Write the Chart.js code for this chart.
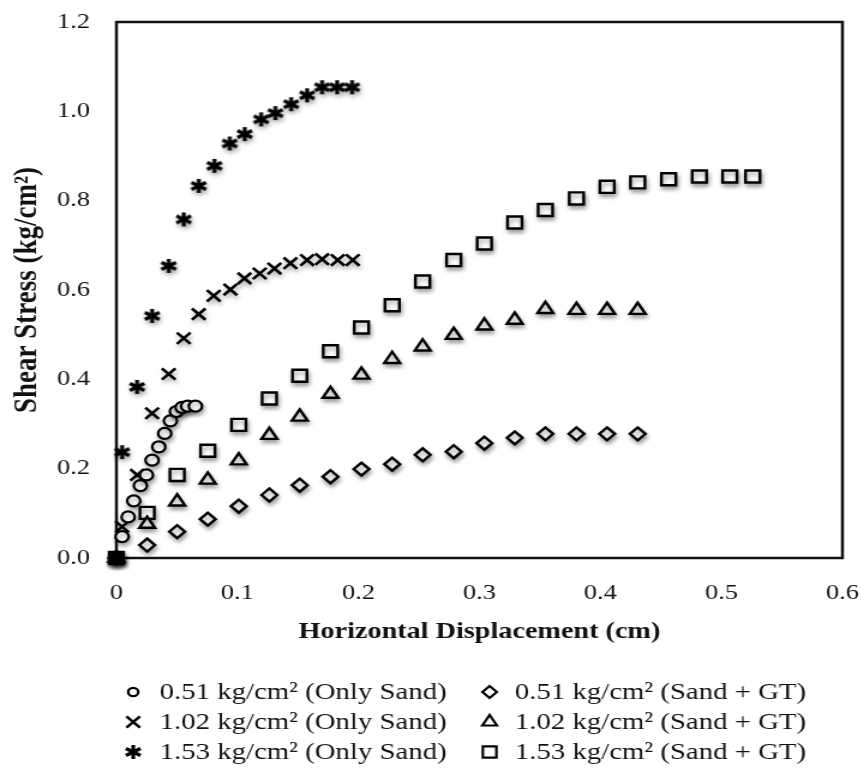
<!DOCTYPE html>
<html>
<head>
<meta charset="utf-8">
<script src="https://cdn.jsdelivr.net/npm/chart.js@4.4.1/dist/chart.umd.min.js"></script>
<style>
  html, body { margin: 0; padding: 0; background: #fff; overflow: hidden; }
  /* the source figure is stretched ~1.2x horizontally, so the whole chart is too */
  #wrap { width: 718px; height: 773px; transform: scaleX(1.2); transform-origin: 0 0; }
</style>
</head>
<body>
<div id="wrap"><canvas id="chart"></canvas></div>
<script>
const xTicks = [0, 0.1, 0.2, 0.3, 0.4, 0.5, 0.6];
const yTicks = [0, 0.2, 0.4, 0.6, 0.8, 1.0, 1.2];

const legendLabels = [
  '0.51 kg/cm² (Only Sand)', '1.02 kg/cm² (Only Sand)', '1.53 kg/cm² (Only Sand)',
  '0.51 kg/cm² (Sand + GT)', '1.02 kg/cm² (Sand + GT)', '1.53 kg/cm² (Sand + GT)'
];

// only sand
const sand051X = [0, 0.0047, 0.0097, 0.0143, 0.0198, 0.0248, 0.0295, 0.035, 0.0399, 0.0446, 0.0496, 0.0543, 0.0589, 0.0653];
const sand051Y = [0, 0.048, 0.092, 0.128, 0.162, 0.186, 0.219, 0.249, 0.279, 0.307, 0.328, 0.337, 0.340, 0.340];

const sand102X = [0, 0.0047, 0.0171, 0.0295, 0.0432, 0.0556, 0.068, 0.0804, 0.0942, 0.1058, 0.1184, 0.1306, 0.1438, 0.1576, 0.17, 0.1829, 0.1953];
const sand102Y = [0, 0.07, 0.186, 0.324, 0.412, 0.492, 0.546, 0.587, 0.601, 0.626, 0.637, 0.648, 0.66, 0.667, 0.669, 0.667, 0.667];

const sand153X = [0, 0.0047, 0.0171, 0.0295, 0.0432, 0.0556, 0.068, 0.081, 0.0936, 0.106, 0.1196, 0.1314, 0.1444, 0.1576, 0.17, 0.1824, 0.1948];
const sand153Y = [0, 0.237, 0.383, 0.542, 0.654, 0.758, 0.833, 0.878, 0.928, 0.949, 0.982, 0.996, 1.016, 1.036, 1.054, 1.054, 1.054];

// sand + geotextile
const gt051X = [0, 0.0254, 0.0502, 0.0755, 0.1011, 0.1264, 0.1515, 0.1769, 0.2025, 0.2279, 0.2531, 0.2788, 0.3041, 0.3292, 0.3545, 0.3802, 0.4055, 0.4308];
const gt051Y = [0, 0.029, 0.059, 0.087, 0.116, 0.141, 0.163, 0.182, 0.199, 0.210, 0.231, 0.238, 0.257, 0.269, 0.278, 0.278, 0.278, 0.278];

const gt102X = [0, 0.0254, 0.0502, 0.0755, 0.1011, 0.1264, 0.1515, 0.1769, 0.2025, 0.2279, 0.2531, 0.2788, 0.3041, 0.3292, 0.3545, 0.3802, 0.4055, 0.4308];
const gt102Y = [0, 0.076, 0.126, 0.175, 0.218, 0.275, 0.316, 0.367, 0.41, 0.445, 0.473, 0.499, 0.52, 0.533, 0.557, 0.555, 0.555, 0.555];

const gt153X = [0, 0.0254, 0.0502, 0.0755, 0.1011, 0.1264, 0.1515, 0.1769, 0.2025, 0.2279, 0.2531, 0.2788, 0.3041, 0.3292, 0.3545, 0.3802, 0.4055, 0.4308, 0.4564, 0.4818, 0.5069, 0.5259];
const gt153Y = [0, 0.101, 0.186, 0.240, 0.298, 0.357, 0.408, 0.463, 0.516, 0.566, 0.619, 0.667, 0.704, 0.751, 0.779, 0.805, 0.831, 0.841, 0.848, 0.854, 0.854, 0.854];

const INK = '#111';
const SERIF = '"Liberation Serif", "Times New Roman", serif';
const tickFont = { family: SERIF, size: 22 };

// 6-armed heavy asterisk, chart.js has no such point style
function makeAsterisk(size, lw) {
  const c = document.createElement('canvas');
  c.width = size; c.height = size;
  const g = c.getContext('2d');
  g.strokeStyle = '#000';
  g.lineWidth = lw;
  const r = size / 2 - 1;
  g.translate(size / 2, size / 2);
  for (let k = 0; k < 3; k++) {
    const a = Math.PI / 2 + k * Math.PI / 3;
    g.beginPath();
    g.moveTo(-Math.cos(a) * r, -Math.sin(a) * r);
    g.lineTo(Math.cos(a) * r, Math.sin(a) * r);
    g.stroke();
  }
  return c;
}
const asterisk = makeAsterisk(16, 3.2);

const series = [
  { xs: sand051X, ys: sand051Y, style: 'circle', radius: 5.5, bw: 2.2 },
  { xs: sand102X, ys: sand102Y, style: 'crossRot', radius: 8, bw: 2.6 },
  { xs: sand153X, ys: sand153Y, style: asterisk, radius: 7, bw: 0 },
  { xs: gt051X, ys: gt051Y, style: 'rectRot', radius: 6.5, bw: 2.4 },
  { xs: gt102X, ys: gt102Y, style: 'triangle', radius: 7.5, bw: 2.4 },
  { xs: gt153X, ys: gt153Y, style: 'rect', radius: 8.5, bw: 2.4 }
];

// frame + soft drop shadow under the markers, like the scanned figure
const shadowPlugin = {
  id: 'shadow',
  beforeDatasetsDraw(chart) {
    const { ctx, chartArea: a } = chart;
    ctx.save();
    ctx.strokeStyle = INK;
    ctx.lineWidth = 2.5;
    ctx.strokeRect(a.left, a.top, a.right - a.left, a.bottom - a.top);
    ctx.shadowColor = 'rgba(0,0,0,0.35)';
    ctx.shadowBlur = 4;
    ctx.shadowOffsetX = 1;
    ctx.shadowOffsetY = 3;
  },
  afterDatasetsDraw(chart) {
    chart.ctx.restore();
  }
};

// two-column legend under the x axis title
const legendPlugin = {
  id: 'colLegend',
  afterDraw(chart) {
    const ctx = chart.ctx;
    const colMarker = [111, 408];
    const colText = [133, 429];
    const rowY = [692, 722, 752];
    const legendMarks = [
      { pointStyle: 'circle', radius: 4.2, borderWidth: 2.2 },
      { pointStyle: 'crossRot', radius: 8, borderWidth: 2.6 },
      { pointStyle: asterisk, radius: 7, borderWidth: 0 },
      { pointStyle: 'rectRot', radius: 6, borderWidth: 2.2 },
      { pointStyle: 'triangle', radius: 7, borderWidth: 2.2 },
      { pointStyle: 'rect', radius: 8, borderWidth: 2.2 }
    ];
    ctx.save();
    ctx.font = '24px ' + SERIF;
    ctx.textBaseline = 'middle';
    ctx.textAlign = 'left';
    legendLabels.forEach((label, i) => {
      const col = Math.floor(i / 3), row = i % 3;
      ctx.fillStyle = '#fff';
      ctx.strokeStyle = '#000';
      ctx.lineWidth = legendMarks[i].borderWidth;
      Chart.helpers.drawPoint(ctx, { ...legendMarks[i], rotation: 0 }, colMarker[col], rowY[row]);
      ctx.fillStyle = INK;
      ctx.fillText(label, colText[col], rowY[row] + 1);
    });
    ctx.restore();
  }
};

new Chart(document.getElementById('chart'), {
  type: 'scatter',
  data: {
    datasets: series.map((s, i) => ({
      label: legendLabels[i],
      data: s.xs.map((x, j) => ({ x, y: s.ys[j] })),
      pointStyle: s.style,
      pointRadius: s.radius,
      pointBorderWidth: s.bw,
      pointBorderColor: '#000',
      // the shared origin point is a solid black blob in the figure
      pointBackgroundColor: c => c.dataIndex === 0 ? '#000' : '#fff',
      showLine: false,
      clip: false
    }))
  },
  options: {
    responsive: true,
    maintainAspectRatio: false,
    animation: false,
    layout: { padding: { top: 22, right: 16, bottom: 0, left: 0 } },
    plugins: { legend: { display: false }, tooltip: { enabled: false } },
    scales: {
      x: {
        type: 'linear', min: 0, max: 0.6,
        afterBuildTicks: s => { s.ticks = xTicks.map(v => ({ value: v })); },
        afterFit: s => { s.height = 215; s.paddingLeft = 0; s.paddingRight = 0; },
        grid: { display: false, drawTicks: false },
        border: { display: false },
        ticks: { padding: 22, font: tickFont, color: INK, callback: v => v === 0 ? '0' : v.toFixed(1) },
        title: { display: true, text: 'Horizontal Displacement (cm)', font: { family: SERIF, size: 23.5, weight: 'bold' }, color: INK, padding: { top: 0, bottom: 127 } }
      },
      y: {
        type: 'linear', min: 0, max: 1.2,
        afterBuildTicks: s => { s.ticks = yTicks.map(v => ({ value: v })); },
        afterFit: s => { s.width = 97; s.paddingTop = 0; s.paddingBottom = 0; },
        grid: { display: false, drawTicks: false },
        border: { display: false },
        ticks: { padding: 22, font: tickFont, color: INK, callback: v => v.toFixed(1) },
        title: { display: true, text: 'Shear Stress (kg/cm²)', font: { family: SERIF, size: 27, weight: 'bold' }, color: INK, padding: { top: 7, bottom: 0 } }
      }
    }
  },
  plugins: [shadowPlugin, legendPlugin]
});
</script>
</body>
</html>
